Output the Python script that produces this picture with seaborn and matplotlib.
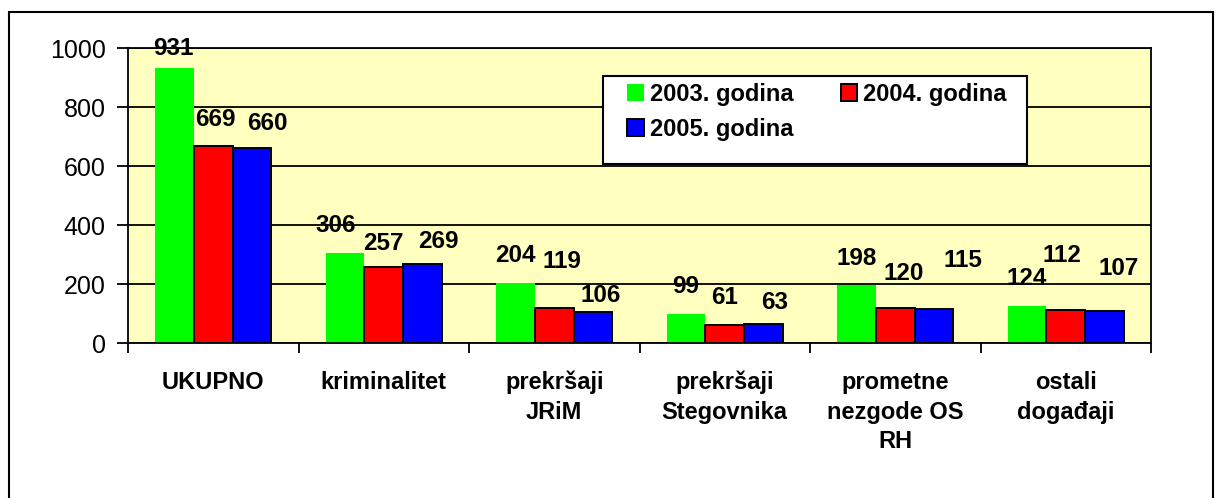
import numpy as np
import pandas as pd
import matplotlib
matplotlib.use('Agg')
import matplotlib.pyplot as plt
from matplotlib.patches import Patch, Rectangle
import seaborn as sns

categories = ['UKUPNO', 'kriminalitet', 'prekršaji\nJRiM', 'prekršaji\nStegovnika',
              'prometne\nnezgode OS\nRH', 'ostali\ndogađaji']
years = ['2003. godina', '2004. godina', '2005. godina']
v2003 = [931, 306, 204, 99, 198, 124]
v2004 = [669, 257, 119, 61, 120, 112]
v2005 = [660, 269, 106, 63, 115, 107]
yticks = [0, 200, 400, 600, 800, 1000]

colors = ['#00FF00', '#FF0000', '#0000FF']
# label nudges (pixels) to mimic the Excel placement of the value labels
label_dx = [[-1, -9, 0, 0, 0, 0], [2, 0, 8, 0, 8, -4], [15, 16, 8, 11, 29, 14]]
label_dy = [[22, 29, 29, 29, 28, 30], [28, 26, 48, 30, 36, 57], [27, 24, 18, 24, 51, 45]]

sns.set_theme(style='white')
plt.rcParams['font.family'] = ['Liberation Sans', 'DejaVu Sans']
plt.rcParams['text.color'] = 'black'
plt.rcParams['xtick.color'] = 'black'
plt.rcParams['ytick.color'] = 'black'
plt.rcParams['axes.labelcolor'] = 'black'

df = pd.DataFrame({
    'kategorija': categories * 3,
    'broj': v2003 + v2004 + v2005,
    'godina': [years[0]] * 6 + [years[1]] * 6 + [years[2]] * 6,
})

fig = plt.figure(figsize=(12.22, 4.98), dpi=100)
ax = fig.add_axes([128 / 1222, 155 / 498, 1023 / 1222, 295 / 498])
ax.set_facecolor('#FFFFC0')

sns.barplot(data=df, x='kategorija', y='broj', hue='godina', palette=colors,
            width=0.68, saturation=1, edgecolor='black', linewidth=1.4,
            legend=False, ax=ax)
for bar in ax.containers[0]:
    bar.set_edgecolor('none')

ax.set_xlim(-0.5, 5.5)
ax.set_ylim(0, 1000)
ax.set_yticks(yticks)
ax.set_yticklabels([str(t) for t in yticks], fontsize=18, color='black')
ax.set_axisbelow(True)
ax.grid(axis='y', color='black', linewidth=1.3)
ax.grid(axis='x', visible=False)
for s in ax.spines.values():
    s.set_color('black')
    s.set_linewidth(1.3)
ax.tick_params(axis='y', direction='out', length=8, width=1.3, color='black', pad=8, left=True)

ax.set_xticks(np.arange(-0.5, 6, 1))
ax.set_xticklabels([])
ax.set_xticks(range(6), minor=True)
ax.set_xticklabels(categories, minor=True, fontsize=17, fontweight='bold',
                   linespacing=1.38, ha='center', color='black')
ax.tick_params(axis='x', which='major', direction='out', length=7, width=1.3,
               color='black', bottom=True)
ax.tick_params(axis='x', which='minor', length=0, pad=20)
ax.set_xlabel('')
ax.set_ylabel('')

values = [v2003, v2004, v2005]
for i, cont in enumerate(ax.containers):
    for bar, val, dx, dy in zip(cont, values[i], label_dx[i], label_dy[i]):
        ax.annotate(str(val), xy=(bar.get_x() + bar.get_width() / 2, bar.get_height()),
                    xytext=(dx * 0.72, (dy - 8.6) * 0.72), textcoords='offset points',
                    ha='center', va='baseline', fontsize=17.5, fontweight='bold',
                    color='black', zorder=6)

# legend box drawn separately so its padding can match the original
ax.add_patch(Rectangle(((603 - 128) / 1023, (343 - 164) / 295), 424 / 1023, 88 / 295,
                       transform=ax.transAxes, facecolor='white', edgecolor='black',
                       linewidth=1.5, zorder=4))
handles = [Patch(facecolor=colors[0], edgecolor='none'),
           Patch(facecolor=colors[2], edgecolor='black', linewidth=1.4),
           Patch(facecolor=colors[1], edgecolor='black', linewidth=1.4)]
labels = [years[0], years[2], years[1]]
leg = ax.legend(handles, labels, ncol=2, loc='upper left', frameon=False,
                bbox_to_anchor=((627 - 128) / 1023, (343 - 83) / 295),
                borderpad=0, borderaxespad=0, handlelength=0.71, handleheight=0.71,
                handletextpad=0.25, columnspacing=2.0, labelspacing=0.5,
                prop={'size': 17, 'weight': 'bold'})
for t in leg.get_texts():
    t.set_color('black')
leg.set_zorder(5)

fig.add_artist(Rectangle((9 / 1222, -0.1), 1204 / 1222, 1.1 - 12 / 498,
                         transform=fig.transFigure, fill=False, edgecolor='black',
                         linewidth=1.5))

fig.savefig('out.png', dpi=100)
